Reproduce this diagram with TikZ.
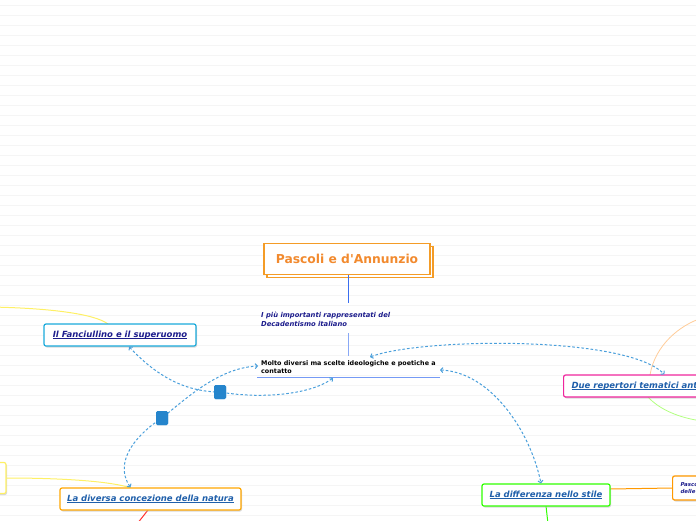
\documentclass[tikz,border=0pt]{standalone}
\usepackage{fontspec}
\setmainfont{DejaVu Sans}
\usetikzlibrary{arrows.meta,shadows}
\definecolor{mapOrange}{HTML}{F28A2E}
\definecolor{mapNavy}{HTML}{1C1C8C}
\definecolor{mapBlue}{HTML}{1F5FAA}
\definecolor{linkBlue}{HTML}{4A9FDB}
\definecolor{markBlue}{HTML}{2585CC}
\definecolor{stemBlue}{HTML}{3A6EF0}
\newcommand\mapul[1]{{\setbox0\hbox{#1}\rlap{\rule[-1.4pt]{\wd0}{.75pt}}\box0}}
\newcommand\mapquote{\XeTeXglyph\XeTeXglyphindex "quotesingle"\relax}
\tikzset{%
  tipC/.tip={Straight Barb[length=2.2pt,width=5pt]},
  gridline/.style={color=black!4, line width=.6pt},
  topic/.style={draw, fill=white, rounded corners=2pt, line width=1.2pt, inner sep=0pt,
    minimum height=22pt, font=\fontsize{8.5}{10}\selectfont\bfseries\itshape,
    drop shadow={shadow xshift=1pt,shadow yshift=-1.5pt,fill=black!30,opacity=.5}},
  subtext/.style={anchor=west, inner sep=0pt, align=left},
  link/.style={linkBlue, line width=1pt, dash pattern=on 2.6pt off 2pt, tipC-tipC},
  sqmark/.style={fill=markBlue, rounded corners=1.5pt, minimum width=12pt, minimum height=14pt, inner sep=0pt},
  branch/.style={line width=1pt}
}

\begin{document}
\begin{tikzpicture}[x=1pt,y=-1pt]
\useasboundingbox (0,0) rectangle (696,520);
\foreach \yy in {5,15,...,515} \draw[gridline] (0,\yy) -- (696,\yy);
\node[draw=mapOrange!85!yellow, fill=white, line width=1.2pt, minimum width=166pt, minimum height=31pt,
  copy shadow={shadow xshift=3pt,shadow yshift=-3pt}, text=mapOrange,
  font=\fontsize{12.3}{14}\selectfont\bfseries] (title) at (347,259) {Pascoli e d\mapquote Annunzio};
\node[subtext, text=mapNavy, font=\fontsize{6.8}{9}\selectfont\bfseries\itshape] (rapp) at (261,319)
  {I più importanti rappresentati del\\Decadentismo italiano};
\node[subtext, font=\fontsize{6.4}{8}\selectfont\bfseries] (diversi) at (261,367)
  {Molto diversi ma scelte ideologiche e poetiche a\\contatto};
\coordinate (stemA) at (348,303);
\coordinate (stemB) at (348,333);
\coordinate (stemC) at (348,356);
\coordinate (ulA) at (257,377);
\coordinate (ulB) at (440,377);
\draw[stemBlue, line width=.8pt] (348,275) -- (stemA);
\draw[stemBlue!60, line width=.8pt] (stemB) -- (stemC);
\draw[stemBlue!70, line width=.8pt] (ulA) -- (ulB);

\coordinate (offL) at (-10,307);
\coordinate (offR1) at (702,318);
\coordinate (offR2) at (702,421);
\coordinate (offB1) at (137,524);
\coordinate (offB2) at (548,524);
\draw[branch, yellow!90!orange!60] (offL) .. controls (50,308) and (95,314) .. (108,324);
\node[topic, draw=markBlue!70!cyan, minimum width=152pt] (fan) at (120,335)
  {\color{mapNavy}\mapul{Il Fanciullino e il superuomo}};
\node[topic, draw=yellow!90!orange!60, minimum width=40pt, minimum height=31pt] (lbox) at (-14,478) {};
\draw[branch, yellow!90!orange!60] (lbox.east) .. controls (60,478) and (110,481) .. (131,488);
\draw[branch, red!80] (148,510) -- (offB1);
\node[topic, draw=orange!70!yellow, minimum width=181pt] (nat) at (150.5,499)
  {\color{mapBlue}\mapul{La diversa concezione della natura}};
\draw[branch, orange!40, line width=.8pt] (650,375) .. controls (655,345) and (680,325) .. (offR1);
\draw[branch, green!60!yellow!50, line width=.8pt] (648,397) .. controls (660,410) and (680,418) .. (offR2);
\node[topic, draw=magenta!85, minimum width=150pt, anchor=west] (rep) at (563,386)
  {\hspace{8pt}\color{mapBlue}\mapul{Due repertori tematici antitetici}\hspace{8pt}};
\draw[branch, green!75!lime] (546,506) -- (offB2);
\draw[branch, orange!80!yellow] (610,489) -- (672,488);
\node[topic, draw=orange!80!yellow, text width=50pt, minimum height=24pt, anchor=west, align=left,
  font=\fontsize{5.4}{7.4}\selectfont\bfseries\itshape, text=mapNavy] (pasc) at (672,488)
  {\hspace*{8pt}Pascoli\\\hspace*{8pt}delle};
\node[topic, draw=green!75!lime, minimum width=128pt] (dif) at (546,495)
  {\color{mapBlue}\mapul{La differenza nello stile}};

\node[sqmark] (sqa) at (220,392) {};
\node[sqmark] (sqb) at (162,418) {};
\draw[link] ([xshift=9pt]fan.south) .. controls (160,380) and (190,392) .. (sqa.center)
  .. controls (260,399) and (310,395) .. (333,378);
\draw[link] ([xshift=-20pt]nat.north) .. controls (112,460) and (140,432) .. (sqb.center)
  .. controls (190,395) and (220,368) .. (258,366);
\draw[link] (370,357) .. controls (420,338) and (625,335) .. ([xshift=20pt]rep.north);
\draw[link] (440,370) .. controls (490,372) and (530,430) .. ([xshift=-5pt]dif.north);
\node[sqmark] at (sqa) {};
\node[sqmark] at (sqb) {};
\end{tikzpicture}
\end{document}
